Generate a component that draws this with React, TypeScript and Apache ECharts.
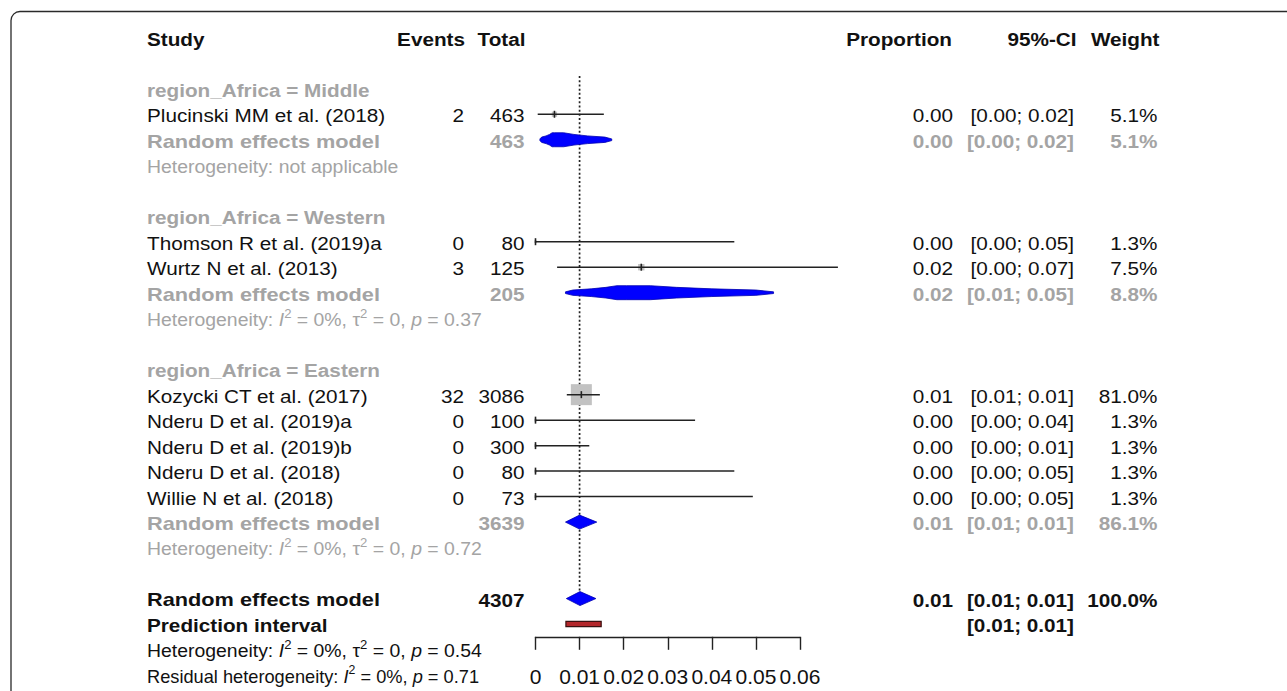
import React, { useEffect, useRef } from "react";
import * as echarts from "echarts";

// ---------------- data ----------------
const headerLabels = ["Study", "Events", "Total", "Proportion", "95%-CI", "Weight"];

const subgroupNames = ["region_Africa = Middle", "region_Africa = Western", "region_Africa = Eastern"];
const subgroupRows = [2, 7, 13];

const studyNames = [
  "Plucinski MM et al. (2018)",
  "Thomson R et al. (2019)a",
  "Wurtz N et al. (2013)",
  "Kozycki CT et al. (2017)",
  "Nderu D et al. (2019)a",
  "Nderu D et al. (2019)b",
  "Nderu D et al. (2018)",
  "Willie N et al. (2018)",
];
const studyRows = [3, 8, 9, 14, 15, 16, 17, 18];
const studyEvents = [2, 0, 3, 32, 0, 0, 0, 0];
const studyTotals = [463, 80, 125, 3086, 100, 300, 80, 73];
const studyProportion = [0.0043, 0, 0.024, 0.0104, 0, 0, 0, 0];
const studyLower = [0.0005, 0, 0.0049, 0.0071, 0, 0, 0, 0];
const studyUpper = [0.0155, 0.0451, 0.0686, 0.0146, 0.0362, 0.0122, 0.0451, 0.0493];
const studyWeight = [5.1, 1.3, 7.5, 81.0, 1.3, 1.3, 1.3, 1.3];

const pooledNames = ["Random effects model", "Random effects model", "Random effects model", "Random effects model"];
const pooledRows = [4, 10, 19, 22];
const pooledTotals = [463, 205, 3639, 4307];
const pooledEstimate = [0.0043, 0.0207, 0.01, 0.0101];
const pooledLower = [0.001, 0.0068, 0.0068, 0.007];
const pooledUpper = [0.0173, 0.054, 0.0139, 0.0137];
const pooledWeight = [5.1, 8.8, 86.1, 100.0];
const pooledIsOverall = [false, false, false, true];

const predictionLabel = "Prediction interval";
const predictionRow = 23;
const predictionLower = 0.0069;
const predictionUpper = 0.0149;

const hetRows = [5, 11, 20, 24];
const hetI2: (number | null)[] = [null, 0, 0, 0];
const hetTau2: (number | null)[] = [null, 0, 0, 0];
const hetP: (number | null)[] = [null, 0.37, 0.72, 0.54];
const hetIsOverall = [false, false, false, true];

const residualRow = 25;
const residualI2 = 0;
const residualP = 0.71;

const referenceValue = 0.01;
const referenceFromRow = 1.5;
const referenceToRow = 22;

const axisMin = 0;
const axisMax = 0.06;
const axisInterval = 0.01;

// ---------------- layout / style ----------------
const FONT = '"Liberation Sans", Arial, Helvetica, sans-serif';
const FS = 18.5;
const SX = 1.12;
const SX_POOLED_LABEL = 1.175;
const SX_HET = 1.05;
const SX_RESIDUAL = 0.985;
const TEXT_DY = 1.5;
const BLACK = "#111111";
const GRAY = "#a4a4a4";
const LINE = "#222222";

const COL_STUDY = 147;
const COL_EVENTS = 464;
const COL_TOTAL = 524.5;
const COL_PROP = 953;
const COL_CI = 1074;
const COL_WEIGHT = 1157.5;
const HEADER_X = [147, 465, 525.5, 952, 1076.5, 1159.5];
const HEADER_ALIGN = ["left", "right", "right", "right", "right", "right"];

const MAX_SQUARE = 21;
const DIAMOND_H = 7;

type TItem = {
  row: number;
  x: number;
  text: string;
  align: string;
  bold: boolean;
  color: string;
  rich?: boolean;
  sx?: number;
};

const f2 = (v: number) => v.toFixed(2);
const ci = (lo: number, hi: number) => `[${f2(lo)}; ${f2(hi)}]`;
const pct = (v: number) => `${v.toFixed(1)}%`;

function buildTextItems(): TItem[] {
  const items: TItem[] = [];
  headerLabels.forEach((t, i) =>
    items.push({ row: 0, x: HEADER_X[i], text: t, align: HEADER_ALIGN[i], bold: true, color: BLACK })
  );
  subgroupNames.forEach((t, i) =>
    items.push({ row: subgroupRows[i], x: COL_STUDY, text: t, align: "left", bold: true, color: GRAY })
  );
  studyNames.forEach((t, i) => {
    const r = studyRows[i];
    items.push({ row: r, x: COL_STUDY, text: t, align: "left", bold: false, color: BLACK });
    items.push({ row: r, x: COL_EVENTS, text: String(studyEvents[i]), align: "right", bold: false, color: BLACK });
    items.push({ row: r, x: COL_TOTAL, text: String(studyTotals[i]), align: "right", bold: false, color: BLACK });
    items.push({ row: r, x: COL_PROP, text: f2(studyProportion[i]), align: "right", bold: false, color: BLACK });
    items.push({ row: r, x: COL_CI, text: ci(studyLower[i], studyUpper[i]), align: "right", bold: false, color: BLACK });
    items.push({ row: r, x: COL_WEIGHT, text: pct(studyWeight[i]), align: "right", bold: false, color: BLACK });
  });
  pooledNames.forEach((t, i) => {
    const r = pooledRows[i];
    const c = pooledIsOverall[i] ? BLACK : GRAY;
    items.push({ row: r, x: COL_STUDY, text: t, align: "left", bold: true, color: c, sx: SX_POOLED_LABEL });
    items.push({ row: r, x: COL_TOTAL, text: String(pooledTotals[i]), align: "right", bold: true, color: c });
    items.push({ row: r, x: COL_PROP, text: f2(pooledEstimate[i]), align: "right", bold: true, color: c });
    items.push({ row: r, x: COL_CI, text: ci(pooledLower[i], pooledUpper[i]), align: "right", bold: true, color: c });
    items.push({ row: r, x: COL_WEIGHT, text: pct(pooledWeight[i]), align: "right", bold: true, color: c });
  });
  items.push({ row: predictionRow, x: COL_STUDY, text: predictionLabel, align: "left", bold: true, color: BLACK });
  items.push({ row: predictionRow, x: COL_CI, text: ci(predictionLower, predictionUpper), align: "right", bold: true, color: BLACK });
  hetRows.forEach((r, i) => {
    const c = hetIsOverall[i] ? BLACK : GRAY;
    if (hetI2[i] === null) {
      items.push({ row: r, x: COL_STUDY, text: "Heterogeneity: not applicable", align: "left", bold: false, color: c, sx: SX_HET });
    } else {
      const txt = `Heterogeneity: {i|I}{sup|2} = ${hetI2[i]}%, τ{sup|2} = ${hetTau2[i]}, {i|p} = ${f2(hetP[i] as number)}`;
      items.push({ row: r, x: COL_STUDY, text: txt, align: "left", bold: false, color: c, rich: true, sx: SX_HET });
    }
  });
  items.push({
    row: residualRow,
    x: COL_STUDY,
    text: `Residual heterogeneity: {i|I}{sup|2} = ${residualI2}%, {i|p} = ${f2(residualP)}`,
    align: "left",
    bold: false,
    color: BLACK,
    rich: true,
    sx: SX_RESIDUAL,
  });
  return items;
}

const textItems = buildTextItems();

function richFor(color: string) {
  return {
    i: { fontStyle: "italic", fontFamily: FONT, fontSize: FS, fill: color, color, lineHeight: 26, verticalAlign: "middle" },
    sup: { fontFamily: FONT, fontSize: 12.5, fill: color, color, lineHeight: 12, verticalAlign: "top" },
  };
}

function diamondPoints(api: any, est: number, lo: number, hi: number, row: number) {
  const [xe, yc] = api.coord([est, row]);
  const [xl] = api.coord([lo, row]);
  const [xh] = api.coord([hi, row]);
  const left = xe - xl;
  const right = xh - xe;
  const ratio = Math.max(left, right) / Math.max(0.001, Math.min(left, right));
  const profile =
    ratio > 1.6
      ? [[0, 1], [0.16, 1], [0.34, 0.76], [0.58, 0.55], [0.88, 0.38], [1, 0.12]]
      : [[0, 1], [1, 0]];
  const top: number[][] = [];
  for (let k = profile.length - 1; k >= 0; k--) {
    const [t, h] = profile[k];
    top.push([xe - t * left, yc - h * DIAMOND_H]);
  }
  for (let k = 1; k < profile.length; k++) {
    const [t, h] = profile[k];
    top.push([xe + t * right, yc - h * DIAMOND_H]);
  }
  const bottom = top.map(([x, y]) => [x, 2 * yc - y]).reverse();
  return top.concat(bottom);
}

function buildOption(): any {
  const maxW = Math.max(...studyWeight);
  return {
    animation: false,
    backgroundColor: "#ffffff",
    textStyle: { fontFamily: FONT },
    graphic: [
      {
        type: "rect",
        silent: true,
        z: -10,
        shape: { x: 11, y: 11.5, width: 1400, height: 800, r: 9 },
        style: { fill: "none", stroke: "#2a2a2a", lineWidth: 1.3 },
      },
    ],
    grid: {
      left: 535.5,
      top: 37.8,
      width: 264.5,
      height: 599,
      containLabel: false,
      outerBoundsMode: "none",
    },
    xAxis: {
      type: "value",
      min: axisMin,
      max: axisMax,
      interval: axisInterval,
      axisLine: { show: true, onZero: false, lineStyle: { color: LINE, width: 1.4 } },
      axisTick: { show: true, inside: false, length: 13, lineStyle: { color: LINE, width: 1.4 } },
      axisLabel: {
        show: true,
        margin: 29,
        color: BLACK,
        fontFamily: FONT,
        fontSize: 21,
        formatter: (v: number) => (Math.abs(v) < 1e-9 ? "0" : v.toFixed(2)),
      },
      splitLine: { show: false },
    },
    yAxis: { type: "value", min: 0, max: 23.5, inverse: true, show: false },
    series: [
      {
        type: "custom",
        name: "reference",
        silent: true,
        data: [[referenceValue, referenceFromRow, referenceToRow]],
        renderItem: (_p: any, api: any) => {
          const [x, y1] = api.coord([referenceValue, referenceFromRow]);
          const [, y2] = api.coord([referenceValue, referenceToRow]);
          return {
            type: "line",
            shape: { x1: x, y1, x2: x, y2 },
            style: { stroke: LINE, lineWidth: 1.7, lineDash: [2, 2.2] },
          };
        },
        z: 1,
      },
      {
        type: "custom",
        name: "studies",
        silent: true,
        data: studyRows.map((r, i) => [studyProportion[i], r, studyLower[i], studyUpper[i], studyWeight[i]]),
        renderItem: (params: any, api: any) => {
          const i = params.dataIndex;
          const row = studyRows[i];
          const [x0, y] = api.coord([studyLower[i], row]);
          const [x1] = api.coord([studyUpper[i], row]);
          const [xp] = api.coord([studyProportion[i], row]);
          const side = MAX_SQUARE * Math.sqrt(studyWeight[i] / maxW);
          return {
            type: "group",
            children: [
              {
                type: "rect",
                shape: { x: xp - side / 2, y: y - side / 2, width: side, height: side },
                style: { fill: "#c2c2c2" },
              },
              { type: "line", shape: { x1: x0, y1: y, x2: x1, y2: y }, style: { stroke: LINE, lineWidth: 1.5 } },
              {
                type: "line",
                shape: { x1: xp, y1: y - 3.5, x2: xp, y2: y + 3.5 },
                style: { stroke: LINE, lineWidth: 1.6 },
              },
            ],
          };
        },
        z: 2,
      },
      {
        type: "custom",
        name: "pooled",
        silent: true,
        data: pooledRows.map((r, i) => [pooledEstimate[i], r, pooledLower[i], pooledUpper[i]]),
        renderItem: (params: any, api: any) => {
          const i = params.dataIndex;
          const pts = diamondPoints(api, pooledEstimate[i], pooledLower[i], pooledUpper[i], pooledRows[i]);
          return {
            type: "polygon",
            shape: { points: pts },
            style: { fill: "#0000ff", stroke: "#0000b0", lineWidth: 0.8 },
          };
        },
        z: 3,
      },
      {
        type: "custom",
        name: "prediction",
        silent: true,
        data: [[predictionLower, predictionRow, predictionUpper]],
        renderItem: (_p: any, api: any) => {
          const [x0, y] = api.coord([predictionLower, predictionRow]);
          const [x1] = api.coord([predictionUpper, predictionRow]);
          return {
            type: "rect",
            shape: { x: x0, y: y - 2.6, width: x1 - x0, height: 5.2 },
            style: { fill: "#b3262a", stroke: "#3a1010", lineWidth: 1.2 },
          };
        },
        z: 3,
      },
      {
        type: "custom",
        name: "table",
        silent: true,
        data: textItems.map((it) => [0, it.row]),
        renderItem: (params: any, api: any) => {
          const it = textItems[params.dataIndex];
          const [, y] = api.coord([0, it.row]);
          const style: any = {
            text: it.text,
            x: 0,
            y: 0,
            fill: it.color,
            fontFamily: FONT,
            fontSize: FS,
            fontWeight: it.bold ? "bold" : "normal",
            align: it.align,
            textAlign: it.align,
            verticalAlign: "middle",
            textVerticalAlign: "middle",
          };
          if (it.rich) {
            style.rich = richFor(it.color);
            style.lineHeight = 26;
          }
          return { type: "text", x: it.x, y: y + TEXT_DY, scaleX: it.sx ?? SX, scaleY: 1, style };
        },
        z: 4,
      },
    ],
  };
}

export default function App() {
  const ref = useRef<HTMLDivElement>(null);
  useEffect(() => {
    if (!ref.current) return;
    const chart = echarts.init(ref.current, null, { renderer: "svg" });
    chart.setOption(buildOption());
    return () => {
      chart.dispose();
    };
  }, []);
  return (
    <div
      ref={ref}
      style={{ position: "absolute", left: 0, top: 0, width: 1287, height: 691, background: "#fff" }}
    />
  );
}
